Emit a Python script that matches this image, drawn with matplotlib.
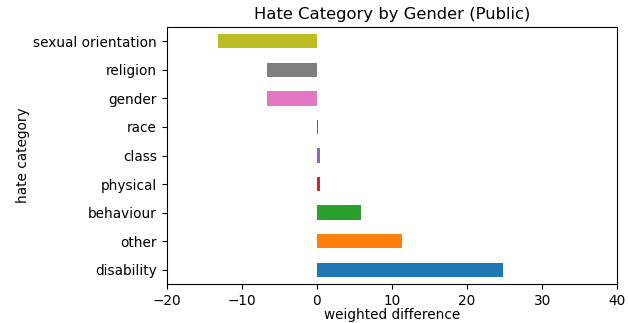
import matplotlib
matplotlib.use("Agg")
import matplotlib.pyplot as plt

categories = ["disability", "other", "behaviour", "physical", "class",
              "race", "gender", "religion", "sexual orientation"]
values = [24.75, 11.35, 5.85, 0.45, 0.45, 0.2, -6.65, -6.65, -13.1]
colors = ["#1f77b4", "#ff7f0e", "#2ca02c", "#d62728", "#9467bd",
          "#8c564b", "#e377c2", "#7f7f7f", "#bcbd22"]
xticks = [-20, -10, 0, 10, 20, 30, 40]

plt.rcParams["font.size"] = 9.8

fig = plt.figure(figsize=(6.29, 3.23), dpi=100)
ax = fig.add_axes([166.5 / 629, 1 - 284 / 323, (617.3 - 166.5) / 629, (284 - 27) / 323])

ax.barh(range(len(categories)), values, height=0.5, color=colors)
ax.set_yticks(range(len(categories)))
ax.set_yticklabels(categories)
ax.set_ylim(-0.5, len(categories) - 0.5)
ax.set_xlim(-20, 40)
ax.set_xticks(xticks)

ax.set_title("Hate Category by Gender (Public)")
ax.set_xlabel("weighted difference", labelpad=0)
ax.set_ylabel("hate category", labelpad=2)

fig.savefig("out.png", dpi=100)
